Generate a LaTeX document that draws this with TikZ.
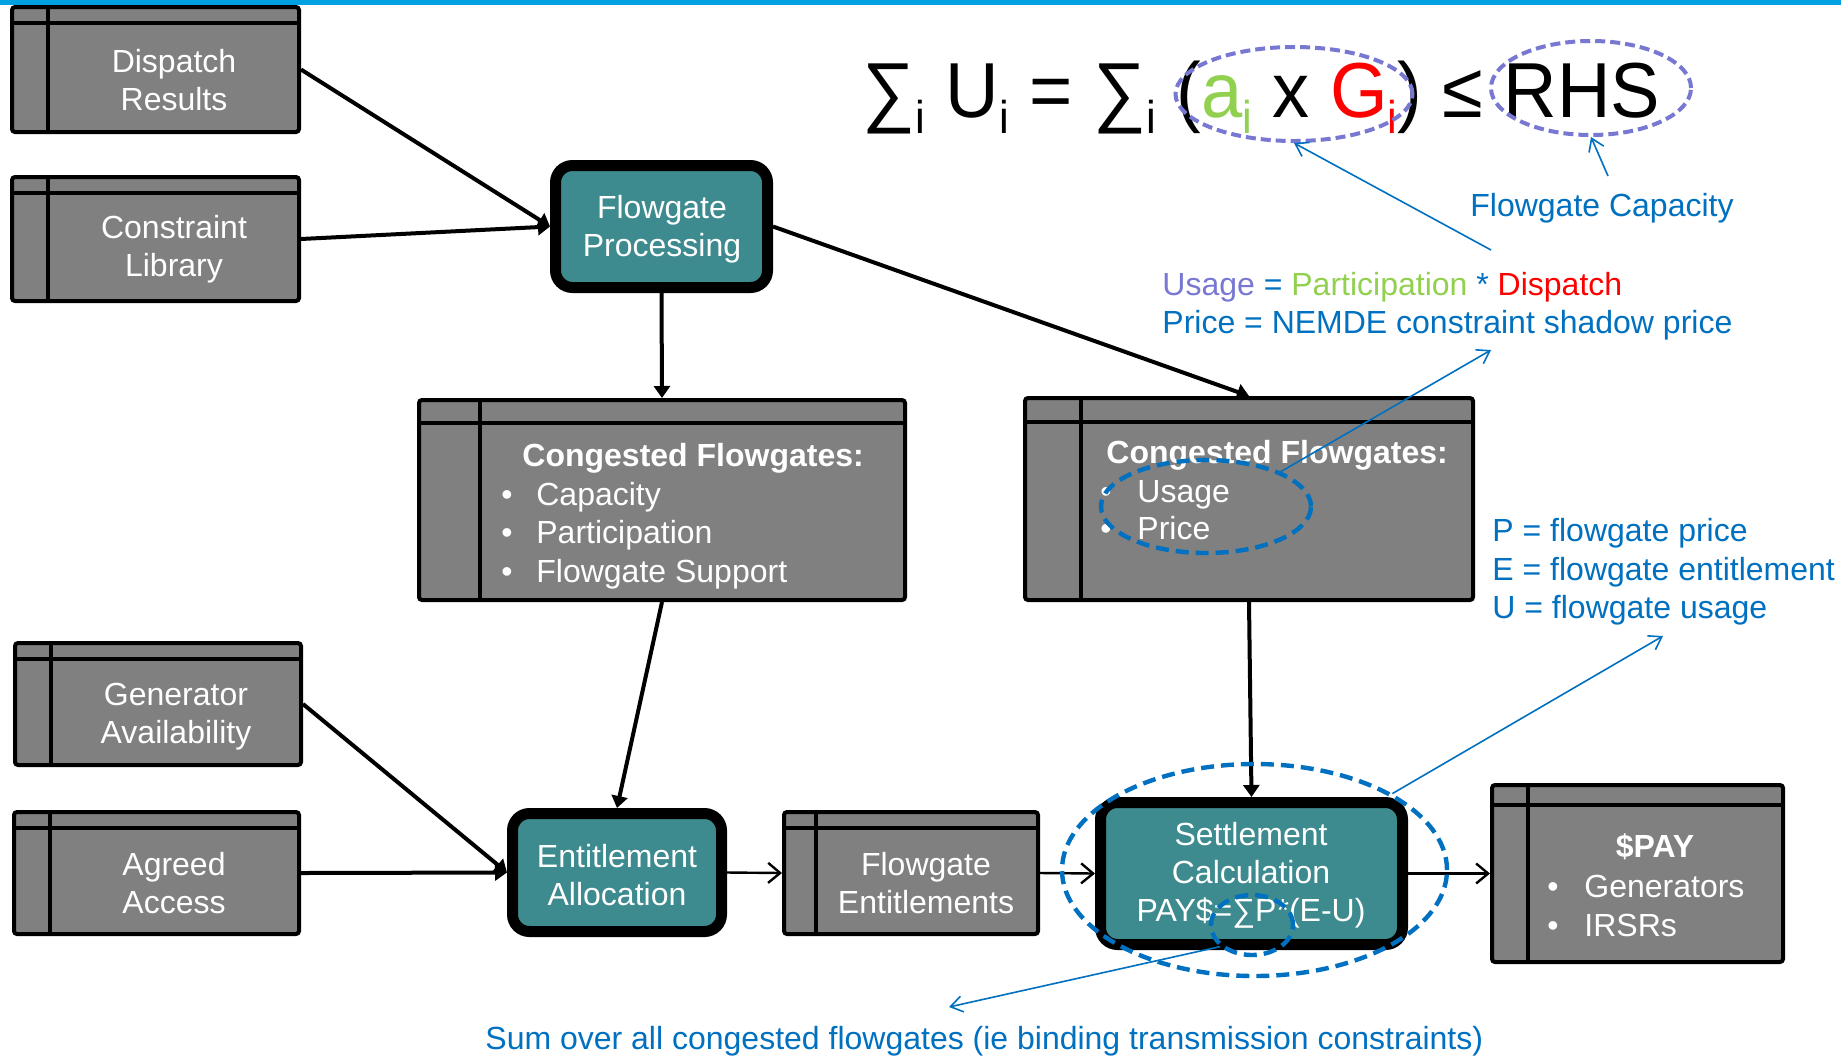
\documentclass[tikz,border=0pt]{standalone}
\usepackage{fontspec}
\setmainfont{Liberation Sans}
\usepackage{graphicx}
\usetikzlibrary{arrows.meta,shapes.geometric,fit}

\definecolor{procfill}{HTML}{3E8B8F}
\definecolor{boxgrey}{HTML}{808080}
\definecolor{noteblue}{HTML}{0070C0}
\definecolor{topbar}{HTML}{00A0E3}
\definecolor{lilac}{HTML}{7878D2}
\definecolor{leaf}{HTML}{92D050}
\definecolor{hotred}{HTML}{FF0000}

% bullet followed by a fixed gap
\newcommand\bul[1]{\makebox[#1][l]{•}}
% lowered, smaller index in the equation
\newcommand\lowidx[1]{\raisebox{-8pt}{\fontsize{23}{23}\selectfont #1}}

% data store: grey box with a left column and a header strip
\newcommand\storebox[7]{%
  \node[store, fit={(#2,#3) (#4,#5)}] (#1) {};
  \draw[rule] (#6,#3) -- (#6,#5);
  \draw[rule] (#2,#7) -- (#4,#7);
}

\tikzset{
  every node/.style={font=\fontsize{16}{19}\selectfont},
  store/.style={draw=black, line width=2pt, fill=boxgrey, rounded corners=1.5pt, inner sep=0pt},
  rule/.style={line width=2pt, draw=black},
  wtext/.style={text=white, align=center, inner sep=0pt},
  proc/.style={draw=black, line width=5.5pt, fill=procfill, rounded corners=8.5pt, inner sep=0pt},
  flow/.style={line width=2pt, -{Triangle[length=6pt,width=8pt]}},
  feed/.style={line width=1.2pt, -{Straight Barb[length=6pt,width=10pt]}},
  note/.style={draw=noteblue, line width=0.8pt, -{Straight Barb[length=6pt,width=8pt]}},
  ntext/.style={text=noteblue, inner sep=0pt},
  blueoval/.style={ellipse, draw=noteblue, line width=2.2pt, dash pattern=on 6.5pt off 3.5pt, inner sep=0pt},
  lilacoval/.style={ellipse, draw=lilac, line width=2pt, dash pattern=on 5pt off 2.5pt, inner sep=0pt},
}

\begin{document}
\begin{tikzpicture}[x=0.5pt, y=-0.5pt]
\useasboundingbox (0,0) rectangle (1841,1056);
\fill[white] (0,0) rectangle (1841,1056);
\fill[topbar] (0,0) rectangle (1841,5);

% ---------- data stores ----------
\storebox{dr}{12}{7}{299}{132}{48}{23}
\storebox{cl}{12}{177}{299}{301}{48}{193}
\storebox{cfl}{419}{400}{905}{600}{480}{423}
\storebox{cfr}{1025}{398}{1473}{600}{1081}{422}
\storebox{ga}{15}{643}{301}{765}{51}{659}
\storebox{aa}{14}{812}{299}{934}{50}{828}
\storebox{fe}{784}{812}{1038}{934}{816}{828}
\storebox{pay}{1492}{785}{1783}{962}{1528}{805}

\node[wtext] (drt) at (174,80) {Dispatch\\Results};
\node[wtext] (clt) at (174,249) {Constraint\\Library};
\node[wtext] (gat) at (176,717) {Generator\\Availability};
\node[wtext] (aat) at (174,883) {Agreed\\Access};
\node[wtext] (fet) at (926,883) {Flowgate\\Entitlements};

\node[wtext, anchor=base west] (cflh) at (522,466) {\bfseries Congested Flowgates:};
\node[wtext, anchor=base west] (cfl1) at (501,505) {\bul{17.5pt}Capacity};
\node[wtext, anchor=base west] (cfl2) at (501,543) {\bul{17.5pt}Participation};
\node[wtext, anchor=base west] (cfl3) at (501,582) {\bul{17.5pt}Flowgate Support};

\node[wtext, anchor=base west] (cfrh) at (1106,463) {\bfseries Congested Flowgates:};
\node[wtext, anchor=base west] (cfr1) at (1100,502) {\bul{18.5pt}Usage};
\node[wtext, anchor=base west] (cfr2) at (1100,539) {\bul{18.5pt}Price};

\node[wtext, anchor=base] (payh) at (1655,857) {\bfseries \$PAY};
\node[wtext, anchor=base west] (pay1) at (1547,897) {\bul{18.5pt}Generators};
\node[wtext, anchor=base west] (pay2) at (1547,936) {\bul{18.5pt}IRSRs};

% ---------- processes ----------
\node[proc, fit={(555.5,165.5) (767.5,287.5)}] (fp) {};
\node[proc, fit={(512.5,813.5) (721.5,931.5)}] (ea) {};
\node[proc, fit={(1100.5,802.5) (1402.5,944.5)}] (sc) {};
\node[wtext] (fpt) at (662,229) {Flowgate\\Processing};
\node[wtext] (eat) at (617,875) {Entitlement\\Allocation};
\node[wtext] (sct) at (1251,875) {Settlement\\Calculation\\PAY\$=∑P*(E-U)};

% ---------- flows ----------
\draw[flow] (dr.east) -- (fp.west);
\draw[flow] (cl.east) -- (fp.west);
\draw[flow] (fp.south) -- (cfl.north);
\draw[flow] (fp.east) -- (cfr.north);
\draw[flow] (cfl.south) -- (ea.north);
\draw[flow] (cfr.south) -- (sc.north);
\draw[flow] (ga.east) -- (ea.west);
\draw[flow] (aa.east) -- (ea.west);
\draw[feed] (ea.east) -- (fe.west);
\draw[feed] (fe.east) -- (sc.west);
\draw[feed] (sc.east) -- (pay.west);

% ---------- equation ----------
\node[anchor=base west, inner sep=0pt] (eq) at (862,117)
  {\scalebox{0.95}[1]{\fontsize{39}{39}\selectfont ∑\lowidx{i} U\lowidx{i} = ∑\lowidx{i} (\textcolor{leaf}{a\lowidx{i}} x \textcolor{hotred}{G\lowidx{i}}) ≤ RHS}};

\node[lilacoval, minimum width=118.5pt, minimum height=47pt] (eap) at (1294,94) {};
\node[lilacoval, minimum width=100pt, minimum height=47pt] (erhs) at (1591,88) {};

% ---------- annotations ----------
\node[ntext, anchor=base] (fcap) at (1602,216) {Flowgate Capacity};
\node[ntext, anchor=base west] (usage) at (1162,295)
  {\textcolor{lilac}{Usage} = \textcolor{leaf}{Participation} * \textcolor{hotred}{Dispatch}};
\node[ntext, anchor=base west] (price) at (1162,333) {Price = NEMDE constraint shadow price};
\node[ntext, anchor=base west] (pdef) at (1492,541) {P = flowgate price};
\node[ntext, anchor=base west] (edef) at (1492,580) {E = flowgate entitlement};
\node[ntext, anchor=base west] (udef) at (1492,618) {U = flowgate usage};
\node[ntext, anchor=base west] (sumtxt) at (485,1049)
  {Sum over all congested flowgates (ie binding transmission constraints)};

\node[blueoval, minimum width=105pt, minimum height=46.5pt] (eup) at (1206,506.5) {};
\node[blueoval, minimum width=192.5pt, minimum height=106pt] (esc) at (1254.5,870) {};
\node[blueoval, minimum width=41pt, minimum height=30pt] (esum) at (1252,925) {};

\coordinate (n1) at (1491,250);
\coordinate (n2) at (1608,176);
\coordinate (n3) at (1491,350);
\coordinate (n4) at (1663,636);
\coordinate (n5) at (949,1007);

\draw[note] (n1) -- (eap.south);
\draw[note] (n2) -- (erhs.south);
\draw[note] (eup.25) -- (n3);
\draw[note] (esc.29) -- (n4);
\draw[note] (esum.214) -- (n5);
\end{tikzpicture}
\end{document}
